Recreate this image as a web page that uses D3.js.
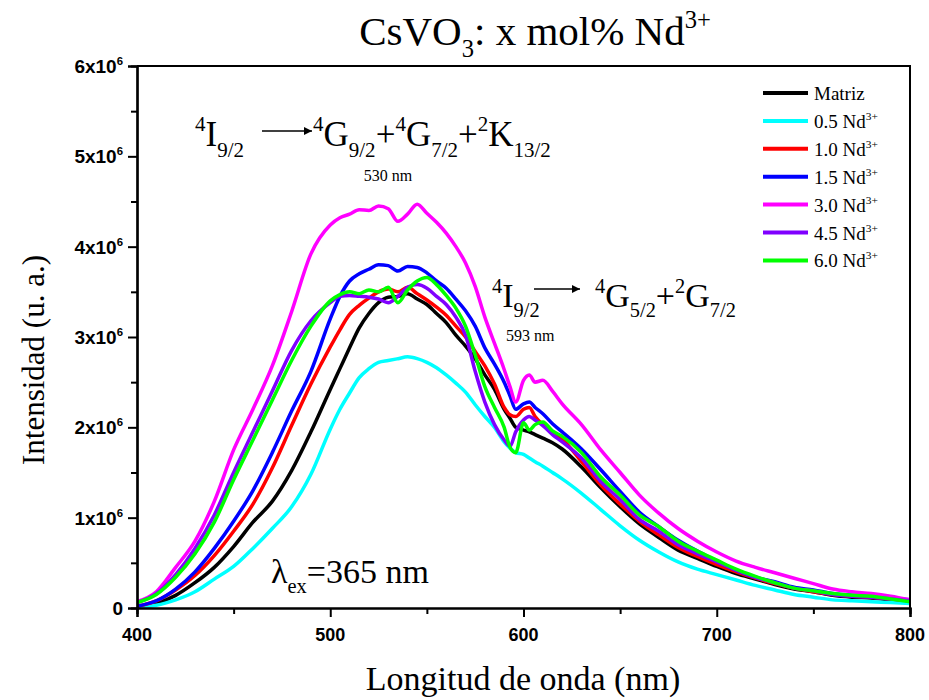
<!DOCTYPE html>
<html>
<head>
<meta charset="utf-8">
<script src="https://cdn.jsdelivr.net/npm/d3@7"></script>
<style>
  body { margin: 0; background: #fff; }
  text { font-family: "Liberation Serif", "Times New Roman", serif; fill: #000; }
  .tick-label { font-family: "Liberation Sans", Arial, sans-serif; font-weight: bold; }
</style>
</head>
<body>
<div id="chart"></div>
<script>
// wavelength (nm) and intensities in units of 10^6 (u. a.)
var wavelength = [400,410,420,430,440,450,460,470,480,490,500,
  505,510,515,520,525,530,535,540,545,550,555,560,565,570,575,580,585,590,
  593,596,600,603,606,610,615,620,
  630,640,650,660,670,680,690,700,710,720,730,740,750,760,770,780,790,800];

var matriz = [0.01,0.05,0.14,0.28,0.45,0.68,0.95,1.18,1.52,1.95,2.42,
  2.65,2.88,3.10,3.26,3.38,3.44,3.45,3.48,3.42,3.36,3.26,3.16,3.02,2.90,2.76,2.58,2.42,2.20,
  2.10,2.00,1.97,1.95,1.92,1.88,1.83,1.76,
  1.56,1.33,1.12,0.93,0.78,0.64,0.55,0.46,0.38,0.32,0.26,0.21,0.18,0.14,0.12,0.11,0.09,0.07];

var nd05 = [0.01,0.03,0.09,0.18,0.32,0.46,0.66,0.88,1.12,1.48,1.98,
  2.20,2.38,2.55,2.65,2.72,2.74,2.76,2.78,2.76,2.72,2.66,2.58,2.49,2.39,2.25,2.12,2.00,1.84,
  1.77,1.72,1.70,1.66,1.62,1.57,1.50,1.43,
  1.27,1.09,0.91,0.75,0.62,0.51,0.43,0.37,0.31,0.25,0.20,0.15,0.12,0.09,0.08,0.07,0.06,0.05];

var nd10 = [0.02,0.08,0.20,0.36,0.58,0.85,1.15,1.55,2.02,2.48,2.89,
  3.08,3.25,3.35,3.43,3.50,3.53,3.50,3.55,3.48,3.41,3.33,3.24,3.12,3.00,2.84,2.68,2.48,2.22,
  2.14,2.12,2.20,2.22,2.12,2.03,1.94,1.87,
  1.62,1.36,1.15,0.96,0.81,0.67,0.57,0.48,0.40,0.33,0.27,0.22,0.18,0.15,0.13,0.12,0.10,0.08];

var nd15 = [0.02,0.08,0.21,0.40,0.66,0.96,1.30,1.72,2.18,2.62,3.20,
  3.45,3.62,3.70,3.75,3.80,3.79,3.73,3.78,3.77,3.71,3.62,3.54,3.42,3.29,3.12,2.88,2.70,2.50,
  2.35,2.20,2.26,2.28,2.22,2.15,2.04,1.95,
  1.76,1.53,1.29,1.06,0.90,0.75,0.63,0.52,0.42,0.34,0.29,0.23,0.20,0.16,0.14,0.13,0.11,0.09];

var nd30 = [0.07,0.18,0.45,0.74,1.18,1.75,2.20,2.68,3.28,3.92,4.24,
  4.32,4.36,4.41,4.40,4.45,4.42,4.28,4.36,4.47,4.37,4.27,4.15,4.00,3.82,3.56,3.22,2.93,2.64,
  2.45,2.28,2.52,2.58,2.50,2.52,2.40,2.26,
  2.03,1.75,1.50,1.25,1.05,0.88,0.74,0.62,0.52,0.45,0.39,0.33,0.27,0.21,0.18,0.16,0.13,0.09];

var nd45 = [0.06,0.16,0.37,0.66,1.03,1.50,1.95,2.40,2.85,3.18,3.38,
  3.45,3.46,3.45,3.44,3.42,3.38,3.45,3.55,3.58,3.54,3.45,3.36,3.22,3.02,2.62,2.28,2.03,1.86,
  1.79,1.95,2.08,2.12,2.08,2.02,1.92,1.84,
  1.66,1.40,1.20,0.98,0.85,0.70,0.60,0.51,0.42,0.34,0.28,0.22,0.19,0.15,0.13,0.12,0.10,0.08];

var nd60 = [0.06,0.15,0.34,0.60,0.95,1.42,1.86,2.30,2.74,3.12,3.40,
  3.47,3.50,3.48,3.52,3.50,3.55,3.38,3.52,3.62,3.66,3.58,3.46,3.32,3.12,2.80,2.45,2.22,2.00,
  1.78,1.72,2.05,1.97,2.03,2.06,1.96,1.90,
  1.72,1.45,1.25,1.03,0.90,0.74,0.63,0.53,0.43,0.35,0.28,0.22,0.19,0.16,0.14,0.13,0.10,0.07];

var seriesLabels = ["Matriz", "0.5", "1.0", "1.5", "3.0", "4.5", "6.0"];
var seriesValues = [matriz, nd05, nd10, nd15, nd30, nd45, nd60];
var seriesColors = ["#000000", "#00ffff", "#ff0000", "#0000ff", "#ff00ff", "#8000ff", "#00ff00"];

var xTicks = [400, 500, 600, 700, 800];
var yTicks = [0, 1, 2, 3, 4, 5, 6];

var m = [66, 19, 92, 137],
  width = 929 - m[1] - m[3],
  height = 700 - m[0] - m[2];

var svg = d3.select("#chart").append("svg")
  .attr("width", 929)
  .attr("height", 700);

var vis = svg.append("g")
  .attr("transform", "translate(" + m[3] + "," + m[0] + ")");

var x = d3.scaleLinear().domain([400, 800]).range([0, width]);
var y = d3.scaleLinear().domain([0, 6]).range([height, 0]);

// superscript / subscript helper
function rich(sel, parts, size) {
  var off = 0;
  parts.forEach(function(p) {
    var target = p[1] === "sup" ? -size * 0.42 : p[1] === "sub" ? size * 0.3 : 0;
    sel.append("tspan")
      .attr("dy", target - off)
      .style("font-size", (p[1] ? size * 0.6 : size) + "px")
      .text(p[0]);
    off = target;
  });
  return sel;
}

vis.append("clipPath").attr("id", "clip")
  .append("rect").attr("width", width).attr("height", height);

// curves
var line = d3.line()
  .curve(d3.curveMonotoneX)
  .x(function(d, i) { return x(wavelength[i]); })
  .y(function(d) { return y(d); });

vis.append("g").attr("clip-path", "url(#clip)")
  .selectAll("path.curve")
  .data(seriesValues)
  .enter().append("path")
  .attr("class", "curve")
  .attr("fill", "none")
  .attr("stroke", function(d, i) { return seriesColors[i]; })
  .attr("stroke-width", 3.5)
  .attr("stroke-linejoin", "round")
  .attr("d", line);

// frame
vis.append("path")
  .attr("d", "M0,0H" + width + "V" + height)
  .attr("fill", "none")
  .attr("stroke", "#000")
  .attr("stroke-width", 2);

// axes
var xMinor = d3.range(450, 800, 100);
var yMinor = d3.range(0.5, 6, 1);

vis.append("g").attr("transform", "translate(0," + height + ")")
  .call(d3.axisBottom(x).tickValues(xTicks).tickSize(9).tickFormat(""));
vis.append("g").attr("transform", "translate(0," + height + ")")
  .call(d3.axisBottom(x).tickValues(xMinor).tickSize(6).tickFormat(""));
vis.append("g")
  .call(d3.axisLeft(y).tickValues(yTicks).tickSize(9).tickFormat(""));
vis.append("g")
  .call(d3.axisLeft(y).tickValues(yMinor).tickSize(6).tickFormat(""));

vis.selectAll(".domain").attr("stroke-width", 2.2);
vis.selectAll(".tick line").attr("stroke-width", 2);

vis.selectAll("text.xlab")
  .data(xTicks)
  .enter().append("text")
  .attr("class", "xlab tick-label")
  .attr("x", function(d) { return x(d); })
  .attr("y", height + 33)
  .attr("text-anchor", "middle")
  .style("font-size", "18px")
  .text(function(d) { return d; });

vis.selectAll("text.ylab")
  .data(yTicks)
  .enter().append("text")
  .attr("class", "ylab tick-label")
  .attr("x", -14)
  .attr("y", function(d) { return y(d) + 7; })
  .attr("text-anchor", "end")
  .style("font-size", "19px")
  .each(function(d) {
    var t = d3.select(this);
    if (d === 0) t.text("0");
    else rich(t, [[d + "x10", ""], ["6", "sup"]], 19);
  });

// axis titles
svg.append("text")
  .attr("x", 523)
  .attr("y", 690)
  .attr("text-anchor", "middle")
  .style("font-size", "34px")
  .text("Longitud de onda (nm)");

svg.append("text")
  .attr("transform", "translate(44,360) rotate(-90)")
  .attr("text-anchor", "middle")
  .style("font-size", "31px")
  .text("Intensidad (u. a.)");

// title
rich(svg.append("text").attr("x", 535).attr("y", 45).attr("text-anchor", "middle"),
  [["CsVO", ""], ["3", "sub"], [": x mol% Nd", ""], ["3+", "sup"]], 41);

// legend
var legend = svg.append("g").attr("transform", "translate(763,93)");
var legendRow = legend.selectAll("g")
  .data(seriesLabels)
  .enter().append("g")
  .attr("transform", function(d, i) { return "translate(0," + i * 27.9 + ")"; });
legendRow.append("line")
  .attr("x2", 45)
  .attr("stroke", function(d, i) { return seriesColors[i]; })
  .attr("stroke-width", 4);
legendRow.append("text")
  .attr("x", 51)
  .attr("y", 7)
  .each(function(d) {
    var t = d3.select(this);
    if (d === "Matriz") t.style("font-size", "19px").text(d);
    else rich(t, [[d + " Nd", ""], ["3+", "sup"]], 19);
  });

// arrow head
svg.append("defs").append("marker")
  .attr("id", "arrow")
  .attr("viewBox", "0 0 10 10")
  .attr("refX", 10).attr("refY", 5)
  .attr("markerWidth", 14).attr("markerHeight", 8)
  .attr("markerUnits", "userSpaceOnUse")
  .attr("orient", "auto")
  .append("path").attr("d", "M0,0L10,5L0,10z").attr("fill", "#000");

// transition 1 (530 nm)
rich(svg.append("text").attr("x", 195).attr("y", 146),
  [["4", "sup"], ["I", ""], ["9/2", "sub"]], 35);
svg.append("line")
  .attr("x1", 262).attr("y1", 131).attr("x2", 312).attr("y2", 131)
  .attr("stroke", "#000").attr("stroke-width", 1.3)
  .attr("marker-end", "url(#arrow)");
rich(svg.append("text").attr("x", 313).attr("y", 146),
  [["4", "sup"], ["G", ""], ["9/2", "sub"], ["+", ""], ["4", "sup"], ["G", ""], ["7/2", "sub"],
   ["+", ""], ["2", "sup"], ["K", ""], ["13/2", "sub"]], 35);
svg.append("text")
  .attr("x", 388).attr("y", 181)
  .attr("text-anchor", "middle")
  .style("font-size", "16px")
  .text("530 nm");

// transition 2 (593 nm)
rich(svg.append("text").attr("x", 492).attr("y", 307),
  [["4", "sup"], ["I", ""], ["9/2", "sub"]], 34);
svg.append("line")
  .attr("x1", 534).attr("y1", 289).attr("x2", 580).attr("y2", 289)
  .attr("stroke", "#000").attr("stroke-width", 1.3)
  .attr("marker-end", "url(#arrow)");
rich(svg.append("text").attr("x", 595).attr("y", 307),
  [["4", "sup"], ["G", ""], ["5/2", "sub"], ["+", ""], ["2", "sup"], ["G", ""], ["7/2", "sub"]], 34);
svg.append("text")
  .attr("x", 506).attr("y", 341)
  .style("font-size", "16px")
  .text("593 nm");

// excitation
rich(svg.append("text").attr("x", 271).attr("y", 583),
  [["\u03bb", ""], ["ex", "sub"], ["=365 nm", ""]], 34);
</script>
</body>
</html>
